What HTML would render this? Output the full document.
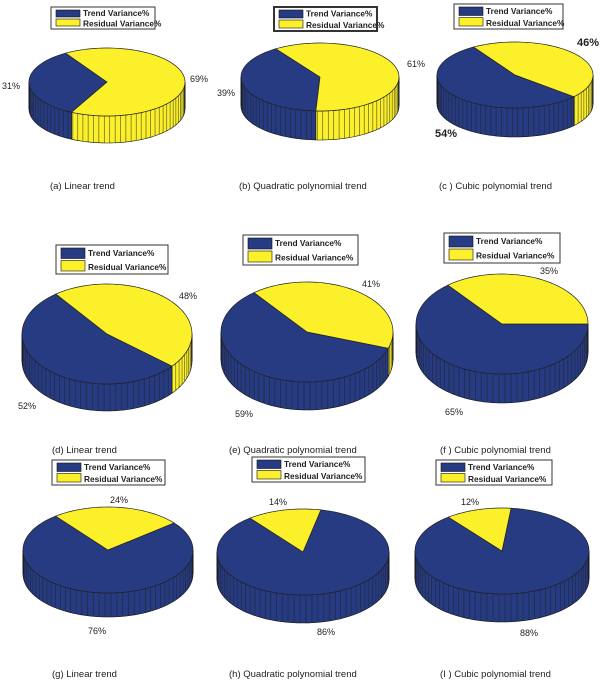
<!DOCTYPE html>
<html><head><meta charset="utf-8"><style>
html,body{margin:0;padding:0;background:#fff;}
svg{display:block;}
text{font-family:"Liberation Sans",sans-serif;}
</style></head><body>
<svg id="s" width="600" height="686" viewBox="0 0 600 686" xmlns="http://www.w3.org/2000/svg"></svg>
<script>
const B="#263b82",Y="#fbf02a";
const pies=[
{cx:107,cy:82,rx:78,ry:34,d:27,t0:117,t1:238},
{cx:320,cy:77,rx:79,ry:34,d:29,t0:93,t1:236},
{cx:515,cy:75,rx:78,ry:33,d:29,t0:41,t1:238},
{cx:107,cy:334,rx:85,ry:50,d:27,t0:40,t1:233},
{cx:307,cy:332,rx:86,ry:50,d:28,t0:19,t1:232},
{cx:502,cy:324,rx:86,ry:50,d:29,t0:0,t1:231},
{cx:108,cy:550,rx:85,ry:43,d:24,t0:321,t1:592},
{cx:303,cy:552,rx:86,ry:43,d:28,t0:282,t1:592},
{cx:502,cy:551,rx:87,ry:43,d:28,t0:276,t1:592}
];
const legends=[[51,7,104,22,1],[274,7,103,24,2],[454,4,109,25,1],[56,245,112,29,1],[243,235,115,30,1],[444,233,116,30,1],[52,460,113,25,1],[252,457,113,25,1],[436,460,116,25,1]];
const labels=[[2,85,"31%"],[190,78,"69%"],[217,92,"39%"],[407,63,"61%"],[577,42,"46%",1],[435,133,"54%",1],
[179,295,"48%"],[18,405,"52%"],[362,283,"41%"],[235,413,"59%"],[540,270,"35%"],[445,411,"65%"],
[110,499,"24%"],[88,630,"76%"],[269,501,"14%"],[317,631,"86%"],[461,501,"12%"],[520,632,"88%"]];
const caps=[[50,185,"(a) Linear trend"],[239,185,"(b) Quadratic polynomial trend"],[439,185,"(c ) Cubic polynomial trend"],
[52,449,"(d) Linear trend"],[229,449,"(e) Quadratic polynomial trend"],[440,449,"(f ) Cubic polynomial trend"],
[52,673,"(g) Linear trend"],[229,673,"(h) Quadratic polynomial trend"],[440,673,"(I ) Cubic polynomial trend"]];
let h="";
const R=Math.PI/180;
function P(p,t,dy){return [(p.cx+p.rx*Math.cos(t*R)).toFixed(2),(p.cy+p.ry*Math.sin(t*R)+dy).toFixed(2)];}
function arc(p,a,b,dy){let s=[];let n=Math.max(2,Math.ceil(Math.abs(b-a)/2));for(let i=0;i<=n;i++){s.push(P(p,a+(b-a)*i/n,dy).join(","));}return s;}
for(const p of pies){
 const segs=[[p.t0,p.t1,B],[p.t1,p.t0+360,Y]];
 for(const [a,b,c] of segs){
  for(const off of [0,360,-360]){
   const lo=Math.max(a,off),hi=Math.min(b,off+180);
   if(hi>lo){
    const top=arc(p,lo,hi,0),bot=arc(p,hi,lo,p.d);
    h+=`<polygon points="${top.concat(bot).join(" ")}" fill="${c}" stroke="#111" stroke-width="0.6"/>`;
    for(let t=Math.ceil(lo/4)*4;t<hi;t+=4){const q1=P(p,t,0),q2=P(p,t,p.d);h+=`<line x1="${q1[0]}" y1="${q1[1]}" x2="${q2[0]}" y2="${q2[1]}" stroke="#222" stroke-width="0.6" opacity="0.8"/>`;}
   }
  }
 }
 h+=`<path d="M${P(p,0,0)} L${P(p,0,p.d)} M${P(p,180,0)} L${P(p,180,p.d)}" stroke="#111" stroke-width="0.8"/>`;
 for(const [a,b,c] of segs){
  h+=`<polygon points="${p.cx},${p.cy} ${arc(p,a,b,0).join(" ")}" fill="${c}" stroke="#222" stroke-width="0.7"/>`;
 }
}
for(const [x,y,w,hh,bw] of legends){
 const r=hh/2;
 h+=`<rect x="${x}" y="${y}" width="${w}" height="${hh}" fill="#fff" stroke="#333" stroke-width="${bw}"/>`;
 h+=`<rect x="${x+5}" y="${y+3}" width="24" height="${r-4}" fill="${B}" stroke="#111" stroke-width="0.6"/>`;
 h+=`<rect x="${x+5}" y="${y+r+1}" width="24" height="${r-4}" fill="${Y}" stroke="#111" stroke-width="0.6"/>`;
 h+=`<text x="${x+32}" y="${y+r/2+3.5}" font-size="8.3" font-weight="bold" fill="#222">Trend Variance%</text>`;
 h+=`<text x="${x+32}" y="${y+r*1.5+3}" font-size="8.3" font-weight="bold" fill="#222">Residual Variance%</text>`;
}
for(const [x,y,t,b] of labels){
 h+=`<text x="${x}" y="${y+4}" font-size="${b?11:9}" ${b?'font-weight="bold"':''} fill="#222">${t}</text>`;
}
for(const [x,y,t] of caps){h+=`<text x="${x}" y="${y+4}" font-size="9.5" fill="#222">${t}</text>`;}
document.getElementById("s").innerHTML=h;
</script>
</body></html>
